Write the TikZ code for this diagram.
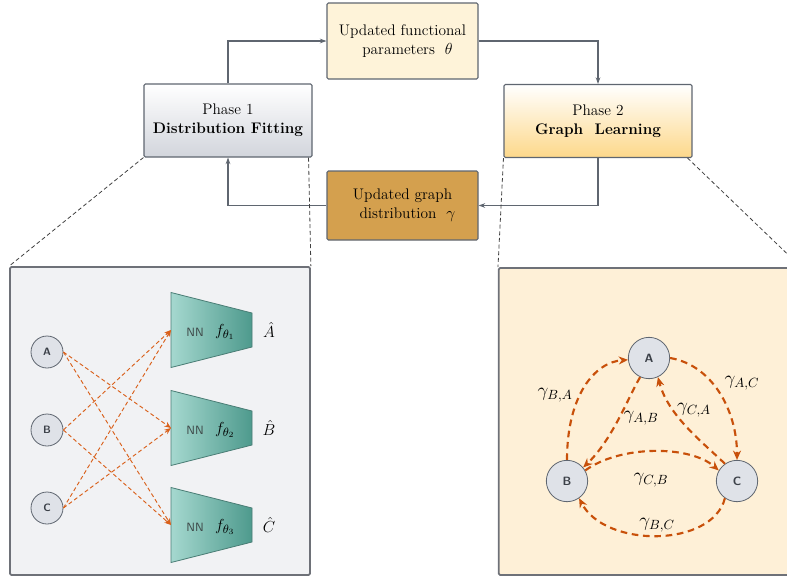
\documentclass[tikz,border=0pt]{standalone}
\usepackage{amsmath}
\usepackage{tikz}
\usetikzlibrary{arrows.meta,calc}
\definecolor{lineg}{HTML}{5F6670}
\definecolor{topc}{HTML}{FEF3D9}
\definecolor{gdc}{HTML}{D4A04E}
\definecolor{pone}{HTML}{D2D5DC}
\definecolor{ptwo}{HTML}{FDD88A}
\definecolor{lpc}{HTML}{F1F2F4}
\definecolor{rpc}{HTML}{FEF0D7}
\definecolor{pnb}{HTML}{6E7178}
\definecolor{vfill}{HTML}{DFE2E8}
\definecolor{vtext}{HTML}{3B4048}
\definecolor{eor}{HTML}{D9601A}
\definecolor{eorr}{HTML}{C8500A}
\definecolor{trapl}{HTML}{A5D8CF}
\definecolor{trapr}{HTML}{4E9A8D}
\definecolor{trapb}{HTML}{4A7D75}
\definecolor{nntext}{HTML}{3F4A4A}

\begin{document}
\begin{tikzpicture}[x=0.75pt,y=-0.75pt,font=\fontsize{11.5}{14}\selectfont,
 ln/.style={draw=lineg,line width=.8pt},
 fl/.style={ln,-{Stealth[length=5pt,width=3.5pt]}},
 bx/.style={ln,rounded corners=1pt,align=center,inner sep=0pt},
 zm/.style={draw=black!75,line width=.6pt,densely dashed},
 pn/.style={draw=pnb,line width=1.3pt,rounded corners=1pt,inner sep=0pt},
 vx/.style={circle,draw=lineg,fill=vfill,line width=.6pt,inner sep=0pt,font=\sffamily\bfseries\footnotesize,text=vtext},
 eone/.style={draw=eor,line width=.7pt,dash pattern=on 3pt off 2pt,-{Stealth[length=5pt,width=4pt]}},
 etwo/.style={draw=eorr,line width=1.6pt,dash pattern=on 5pt off 3.5pt,-{Stealth[length=7pt,width=6pt]}}]
\clip(0,0)rectangle(787,578);
\node[bx,fill=topc,minimum width=113.25pt,minimum height=57pt](th)at(402.5,41){Updated functional\\\ \ parameters~ $\theta$};
\node[bx,top color=white,bottom color=pone,minimum width=126pt,minimum height=54.75pt](pa)at(228,120.5){Phase 1\\\textbf{Distribution Fitting}};
\node[bx,top color=white,bottom color=ptwo,minimum width=141pt,minimum height=54.75pt](pb)at(598,121){Phase 2\\\textbf{Graph\ \ Learning}};
\node[bx,fill=gdc,minimum width=113.25pt,minimum height=51.75pt](gd)at(402.5,205.5){Updated graph\\\ \ distribution~ $\gamma$};
\draw[fl](pa.north)|-(th.west);\draw[fl](th.east)-|(pb.north);
\draw[fl](pb.south)|-(gd.east);\draw[fl](gd.west)-|(pa.south);
\node[pn,fill=lpc,minimum width=225pt,minimum height=231pt](lp)at(160,421){};
\node[pn,fill=rpc,minimum width=226pt,minimum height=230.25pt](rp)at(649.5,421.5){};
\draw[zm](pa.south west)--(lp.north west);\draw[zm]($(pa.south east)+(-4,0)$)--(lp.north east);
\draw[zm](pb.south west)--(rp.north west);\draw[zm]($(pb.south east)+(-5,0)$)--(rp.north east);
\foreach \y/\i/\l in {330/1/A,428/2/B,525/3/C}{
 \draw[draw=trapb,line width=.6pt,left color=trapl,right color=trapr](171,\y-37.5)--(252,\y-17)--(252,\y+17)--(171,\y+37.5)--cycle;
 \coordinate(t\i)at(171,\y);
 \node[font=\sffamily\small,text=nntext](nn\i)at(195,\y+2){NN};
 \node[font=\fontsize{13}{15}\selectfont](f\i)at(225,\y+2){$f_{\theta_\i}$};
 \node[font=\fontsize{13}{15}\selectfont,inner sep=1pt](h\i)at(269,\y){$\hat{\l}$};
}
\node[vx,minimum size=24pt](la)at(47,352){A};\node[vx,minimum size=24pt](lb)at(47,430){B};\node[vx,minimum size=24pt](lc)at(47,508){C};
\draw[eone](la.east)--(t2);\draw[eone](la.east)--(t3);
\draw[eone](lb.east)--(t1);\draw[eone](lb.east)--(t3);
\draw[eone](lc.east)--(t1);\draw[eone](lc.east)--(t2);
\node[vx,minimum size=31pt,font=\sffamily\bfseries\small](ra)at(649,358){A};
\node[vx,minimum size=31pt,font=\sffamily\bfseries\small](rb)at(567,481){B};
\node[vx,minimum size=31pt,font=\sffamily\bfseries\small](rc)at(737,481){C};
\draw[etwo](rb.north)..controls(567,395)and(595,362)..(ra.185);
\draw[etwo](ra.245)..controls(627,400)and(612,440)..(rb.40);
\draw[etwo](rc.125)..controls(700,440)and(668,415)..(ra.295);
\draw[etwo](ra.east)..controls(712,365)and(737,410)..(rc.north);
\draw[etwo](rb.30)..controls(620,445)and(690,445)..(rc.150);
\draw[etwo](rc.235)..controls(712,548)and(605,548)..(rb.305);
\begin{scope}[font=\fontsize{14}{16}\selectfont]
\node(gba)at(555,395){$\gamma_{B,A}$};\node(gab)at(641,418){$\gamma_{A,B}$};
\node(gca)at(694,410){$\gamma_{C,A}$};\node(gac)at(742,383){$\gamma_{A,C}$};
\node(gcb)at(651,480){$\gamma_{C,B}$};\node(gbc)at(657,525){$\gamma_{B,C}$};
\end{scope}
\end{tikzpicture}
\end{document}
